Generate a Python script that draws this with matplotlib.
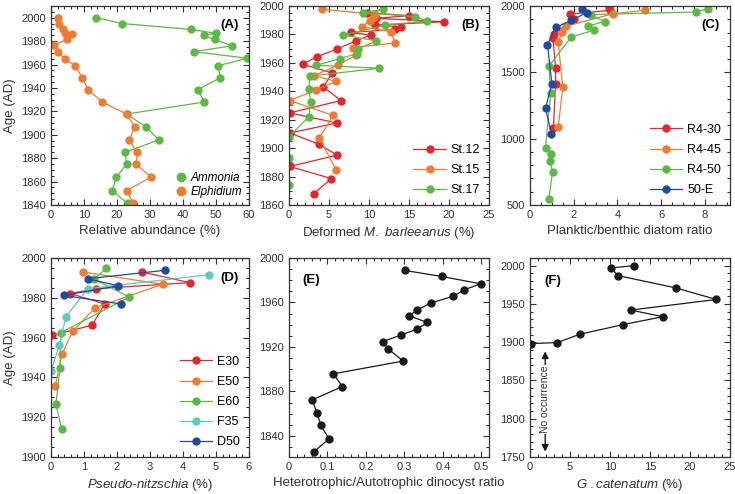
import matplotlib
matplotlib.use('Agg')
import matplotlib.pyplot as plt
from matplotlib.ticker import MultipleLocator

plt.rcParams['font.family'] = ['Liberation Sans', 'DejaVu Sans']
plt.rcParams['mathtext.fontset'] = 'custom'
plt.rcParams['mathtext.rm'] = 'Liberation Sans'
plt.rcParams['mathtext.it'] = 'Liberation Sans:italic'

RED = '#e5262a'
ORANGE = '#f07b33'
GREEN = '#5cb946'
CYAN = '#5ec9bf'
BLUE = '#1d4c9c'
BLACK = '#1a1a1a'

# (A) benthic foraminifera
a_age = [2000, 1995, 1990, 1986.6, 1985, 1981.4, 1976, 1971, 1965.4, 1959, 1948.6,
         1938.6, 1928, 1917.7, 1906.6, 1895.7, 1885, 1874.9, 1863.7, 1852.3, 1841.4]
ammonia = [13.7, 21.6, 42.4, 50, 46.3, 49.6, 54.9, 43.2, 59.5, 50.7, 51.2,
           44.5, 46.5, 22.9, 28.8, 32.7, 22.5, 22.9, 19.8, 18.5, 23.2]
el_age = [2000, 1995, 1990, 1987, 1986, 1981.4, 1976.6, 1971, 1965, 1959, 1948.6,
          1938.6, 1928, 1917.7, 1906.6, 1895.7, 1885, 1874.9, 1863.7, 1852.3, 1841.4]
elphidium = [2, 2.5, 3.6, 4.3, 6.5, 4.8, 1.0, 2.0, 4.1, 7.3, 9.5,
             11.2, 15.5, 22.9, 25.4, 23.7, 26.1, 25.8, 30.3, 22.9, 24.9]

# (B) deformed M. barleeanus
st12_age = [1995.3, 1993.2, 1991.3, 1988.9, 1986.6, 1985.4, 1983.5, 1981.4, 1979.5, 1975.5,
            1969.8, 1964.2, 1959, 1952.9, 1943, 1933.5, 1924.8, 1917.7, 1910.7, 1902.9,
            1895.1, 1887.1, 1878.6, 1868]
st12 = [9.8, 15, 10.9, 19.4, 10.8, 14.0, 13.3, 7.7, 10.2, 8.4,
        6.0, 3.5, 1.7, 5.4, 4.3, 6.5, 0.1, 6.0, 0.1, 3.7,
        6.0, 0.1, 5.3, 3.1]
st15_age = [1997.6, 1994.3, 1992, 1989.6, 1985.4, 1981.9, 1974, 1970.8, 1965.4, 1958.3,
            1951, 1947, 1941, 1933.5, 1923, 1907.1, 1884.5]
st15 = [4.1, 10.7, 10.6, 10.1, 9.1, 12.7, 13.3, 8.0, 8.4, 6.1,
        3.1, 5.9, 3.4, 0.1, 5.5, 3.8, 5.9]
st17_age = [1997.6, 1995.3, 1992.5, 1989.4, 1986.6, 1979.5, 1975.5, 1969.6, 1966.5, 1963,
            1958.3, 1956.2, 1950.7, 1941.8, 1932.6, 1922.2, 1908, 1893, 1874.1]
st17 = [11.75, 9.3, 15.8, 17.25, 12.0, 6.8, 10.9, 8.6, 8.5, 6.4,
        3.4, 11.3, 2.6, 2.5, 2.7, 2.5, 0, 0, 0]

# (C) planktic/benthic diatom ratio
r430_age = [1985, 1967, 1940, 1900, 1790, 1760, 1532, 1413, 1080]
r430 = [3.6, 3.65, 1.82, 2.0, 1.1, 1.05, 1.17, 1.17, 1.07]
r445_age = [1967, 1942, 1847, 1804, 1728, 1388, 1086]
r445 = [5.25, 3.8, 1.64, 1.48, 1.29, 1.5, 1.29]
r450_age = [1980, 1955, 1935, 1882, 1849, 1819, 1766, 1547, 1346, 927, 885, 834, 746, 545]
r450 = [8.15, 7.6, 2.77, 3.41, 2.65, 2.95, 1.89, 0.86, 0.95, 0.71, 0.95, 0.91, 1.03, 0.86]
e50_age = [1980, 1950, 1892, 1838, 1708, 1414, 1230, 1036]
e50 = [2.38, 2.6, 1.89, 1.17, 0.8, 1.0, 0.71, 0.98]

# (D) Pseudo-nitzschia
d_e30_age = [1993, 1987.6, 1984.6, 1982.1, 1976.9, 1966.2, 1961.1]
d_e30 = [2.75, 4.21, 1.36, 0.59, 1.63, 1.24, 0.02]
d_e50_age = [1993, 1986.8, 1975, 1963.3, 1951.6, 1935.5]
d_e50 = [0.96, 3.38, 1.34, 0.66, 0.33, 0.13]
d_e60_age = [1995, 1989.3, 1980.4, 1962.5, 1944.7, 1926.8, 1914.2]
d_e60 = [1.68, 1.31, 2.37, 0.3, 0.27, 0.15, 0.32]
d_f35_age = [1991.6, 1984.6, 1970.4, 1956.1, 1943]
d_f35 = [4.8, 1.11, 0.45, 0.25, 0.0]
d_d50_age = [1993.8, 1989.6, 1986, 1981.2, 1976.9]
d_d50 = [3.45, 1.11, 2.04, 0.38, 2.12]

# (E) heterotrophic/autotrophic dinocyst ratio
e_age = [1988.8, 1983.4, 1976.8, 1971.3, 1965.6, 1959.5, 1953.5, 1948, 1942, 1936, 1930.6,
         1924.8, 1918.5, 1907.3, 1895.8, 1884.4, 1872.3, 1860.5, 1849.4, 1837.3, 1825.8]
e_ratio = [0.301, 0.397, 0.498, 0.455, 0.427, 0.369, 0.334, 0.312, 0.36, 0.333, 0.29,
           0.244, 0.257, 0.297, 0.115, 0.139, 0.06, 0.073, 0.083, 0.104, 0.065]

# (F) G. catenatum
f_age = [2000, 1997, 1987, 1971, 1955.8, 1942, 1933.3, 1922.9, 1910.3, 1899.5, 1898.2]
f_pct = [13.0, 10.1, 11.0, 18.2, 23.3, 12.6, 16.6, 11.6, 6.2, 3.4, 0.1]

fig = plt.figure(figsize=(7.35, 4.94), dpi=100)
W, H = 735.0, 494.0


def make_ax(l, t, r, b):
    return fig.add_axes([l / W, 1 - b / H, (r - l) / W, (b - t) / H])


def style(ax, xmaj, xmin, ymaj, ymin):
    ax.xaxis.set_major_locator(MultipleLocator(xmaj))
    ax.xaxis.set_minor_locator(MultipleLocator(xmin))
    ax.yaxis.set_major_locator(MultipleLocator(ymaj))
    ax.yaxis.set_minor_locator(MultipleLocator(ymin))
    ax.tick_params(which='both', direction='in', top=True, right=True, labelsize=8,
                   colors='#333333', labelcolor='#333333', width=0.8)
    ax.tick_params(which='major', length=4)
    ax.tick_params(which='minor', length=2)
    for s in ax.spines.values():
        s.set_linewidth(0.9)
        s.set_color('#333333')


kw = dict(marker='o', markersize=6, linewidth=0.9, markeredgewidth=0)
lab = dict(fontsize=9.5, color='#333333')
leg = dict(loc='lower right', frameon=False, fontsize=9, handlelength=2.6,
           handletextpad=0.4, labelspacing=0.65, borderaxespad=0.3)

axA = make_ax(51, 6, 249, 205)
axA.plot(ammonia, a_age, color=GREEN, label='Ammonia', **kw)
axA.plot(elphidium, el_age, color=ORANGE, label='Elphidium', **kw)
axA.set_xlim(0, 60)
axA.set_ylim(1840, 2010)
style(axA, 10, 2, 20, 5)
axA.set_xlabel('Relative abundance (%)', **lab)
axA.set_ylabel('Age (AD)', **lab)
hA = [plt.Line2D([], [], color=GREEN, marker='o', linestyle='none', markersize=6),
      plt.Line2D([], [], color=ORANGE, marker='o', linestyle='none', markersize=6)]
axA.legend(hA, ['Ammonia', 'Elphidium'], loc='lower right', frameon=False,
           prop={'style': 'italic', 'size': 8.5}, handletextpad=0.2, labelspacing=0.15,
           borderaxespad=0.2, handlelength=1.2)
axA.text(0.9, 0.905, '(A)', transform=axA.transAxes, ha='center', va='center',
         fontsize=9.5, fontweight='bold')

axB = make_ax(289, 6, 489, 205)
axB.plot(st12, st12_age, color=RED, label='St.12', **kw)
axB.plot(st15, st15_age, color=ORANGE, label='St.15', **kw)
axB.plot(st17, st17_age, color=GREEN, label='St.17', **kw)
axB.set_xlim(0, 25)
axB.set_ylim(1860, 2000)
style(axB, 5, 1, 20, 5)
axB.set_xlabel(r'Deformed $\mathit{M.\ barleeanus}$ (%)', **lab)
axB.legend(**leg)
axB.text(0.905, 0.905, '(B)', transform=axB.transAxes, ha='center', va='center',
         fontsize=9.5, fontweight='bold')

axC = make_ax(530, 6, 730, 205)
axC.plot(r430, r430_age, color=RED, label='R4-30', **kw)
axC.plot(r445, r445_age, color=ORANGE, label='R4-45', **kw)
axC.plot(r450, r450_age, color=GREEN, label='R4-50', **kw)
axC.plot(e50, e50_age, color=BLUE, label='50-E', **kw)
axC.set_xlim(0, 9.15)
axC.set_ylim(500, 2000)
style(axC, 2, 0.5, 500, 100)
axC.set_xlabel('Planktic/benthic diatom ratio', **lab)
axC.legend(**leg)
axC.text(0.905, 0.905, '(C)', transform=axC.transAxes, ha='center', va='center',
         fontsize=9.5, fontweight='bold')

axD = make_ax(51, 258, 249, 457)
axD.plot(d_e30, d_e30_age, color=RED, label='E30', **kw)
axD.plot(d_e50, d_e50_age, color=ORANGE, label='E50', **kw)
axD.plot(d_e60, d_e60_age, color=GREEN, label='E60', **kw)
axD.plot(d_f35, d_f35_age, color=CYAN, label='F35', **kw)
axD.plot(d_d50, d_d50_age, color=BLUE, label='D50', **kw)
axD.set_xlim(0, 6)
axD.set_ylim(1900, 2000)
style(axD, 1, 0.2, 20, 5)
axD.set_xlabel('$\\mathit{Pseudo\u2010nitzschia}$ (%)', **lab)
axD.set_ylabel('Age (AD)', **lab)
axD.legend(**leg)
axD.text(0.9, 0.9, '(D)', transform=axD.transAxes, ha='center', va='center',
         fontsize=9.5, fontweight='bold')

axE = make_ax(289, 258, 489, 457)
axE.plot(e_ratio, e_age, color=BLACK, **kw)
axE.set_xlim(0, 0.52)
axE.set_ylim(1821, 2000)
style(axE, 0.1, 0.02, 40, 10)
axE.xaxis.set_major_formatter(plt.FuncFormatter(lambda v, p: '0' if abs(v) < 1e-9 else ('%.1f' % v)))
axE.set_xlabel('Heterotrophic/Autotrophic dinocyst ratio', **lab)
axE.text(0.11, 0.89, '(E)', transform=axE.transAxes, ha='center', va='center',
         fontsize=9.5, fontweight='bold')

axF = make_ax(530, 258, 730, 457)
axF.plot(f_pct, f_age, color=BLACK, **kw)
axF.set_xlim(0, 25)
axF.set_ylim(1750, 2010)
style(axF, 5, 1, 50, 10)
axF.set_xlabel(r'$\mathit{G\ .catenatum}$ (%)', **lab)
axF.text(0.115, 0.885, '(F)', transform=axF.transAxes, ha='center', va='center',
         fontsize=9.5, fontweight='bold')
axF.annotate('', xy=(1.9, 1888), xytext=(1.9, 1757),
             arrowprops=dict(arrowstyle='<|-|>', color=BLACK, lw=1.0,
                             mutation_scale=10, shrinkA=0, shrinkB=0))
axF.text(1.9, 1825, 'No occurrence', rotation=90, ha='center', va='center',
         fontsize=7.5, color='#333333',
         bbox=dict(facecolor='white', edgecolor='none', pad=0.5))

fig.savefig('out.png', dpi=100)
